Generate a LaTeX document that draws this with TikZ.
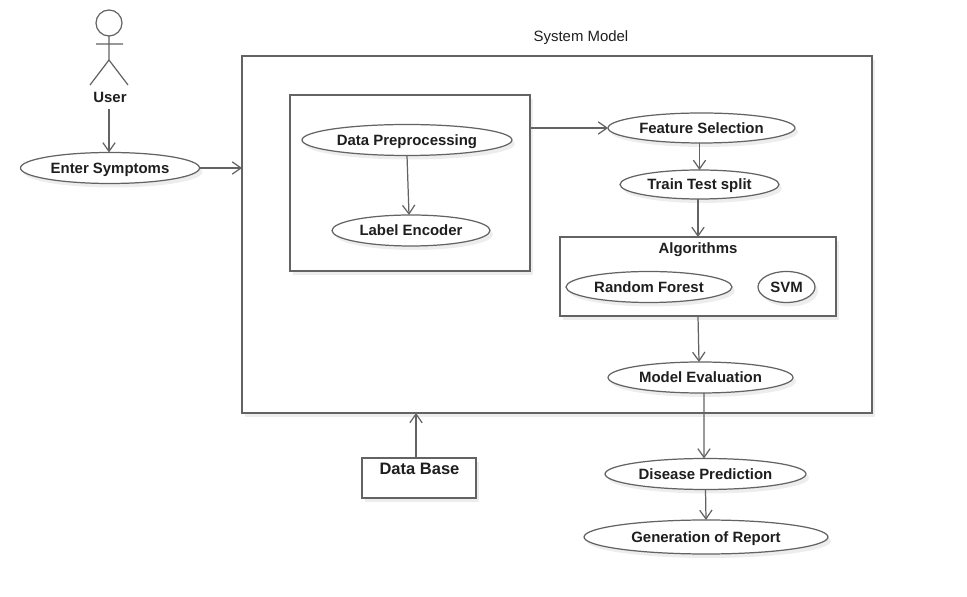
\documentclass[tikz,border=0pt]{standalone}
\usepackage{fontspec}
\setmainfont{Liberation Sans}
\usetikzlibrary{shapes.geometric,arrows.meta,shadows}
\definecolor{linegray}{HTML}{636363}
\definecolor{textgray}{HTML}{1E1E1E}
\tikzset{
  softshadow/.style={drop shadow={shadow xshift=0.06cm,shadow yshift=-0.08cm,fill=black,opacity=0.07}},
  usecase/.style={ellipse,draw=linegray,fill=white,line width=0.7pt,softshadow,inner sep=0pt,outer sep=0pt,
    text=textgray,text height=6pt,text depth=0pt,font=\fontsize{8.5}{10}\selectfont\bfseries},
  blockbox/.style={rectangle,draw=linegray,fill=white,line width=0.7pt,softshadow,inner sep=0pt,outer sep=0pt},
  caption/.style={text=textgray,text height=6pt,text depth=0pt,font=\fontsize{8.5}{10}\selectfont\bfseries,inner sep=0pt},
  flow/.style={-{Straight Barb[length=5pt,width=7pt]},draw=linegray,line width=0.7pt},
}
\begin{document}
\begin{tikzpicture}[x=0.02cm,y=-0.02cm]
  \useasboundingbox (0,0) rectangle (967,597);

  % boxes
  \node[blockbox,minimum width=12.6cm,minimum height=7.14cm] (system) at (557,234.5) {};
  \node[blockbox,minimum width=4.8cm,minimum height=3.52cm] (prep) at (410,183) {};
  \node[blockbox,minimum width=5.52cm,minimum height=1.58cm] (algo) at (698,276.5) {};
  \node[blockbox,minimum width=2.28cm,minimum height=0.8cm] (base) at (419,478) {};
  \node[caption,font=\fontsize{8.5}{10}\selectfont] (title) at (581,36) {System Model};
  \node[caption] (algotitle) at (698,248) {Algorithms};
  \node[caption,font=\fontsize{9.4}{11}\selectfont\bfseries] (basetitle) at (419.5,469) {Data Base};

  % actor
  \node[circle,draw=linegray,line width=0.7pt,minimum size=0.52cm,inner sep=0pt,outer sep=0pt] (head) at (109,23) {};
  \coordinate (hip) at (109,60);
  \coordinate (armL) at (96,44);
  \coordinate (armR) at (123,44);
  \coordinate (legL) at (90,85);
  \coordinate (legR) at (128,85);
  \draw[linegray,line width=0.7pt] (head.south) -- (hip) (armL) -- (armR) (legL) -- (hip) -- (legR);
  \node[caption] (user) at (110,97) {User};

  % use cases
  \node[usecase,minimum width=3.58cm,minimum height=0.62cm] (symptoms) at (110,168) {Enter Symptoms};
  \node[usecase,minimum width=4.2cm,minimum height=0.62cm] (clean) at (407,140) {Data Preprocessing};
  \node[usecase,minimum width=3.16cm,minimum height=0.62cm] (encoder) at (411,230.5) {Label Encoder};
  \node[usecase,minimum width=3.74cm,minimum height=0.6cm] (features) at (701.5,128) {Feature Selection};
  \node[usecase,minimum width=3.18cm,minimum height=0.58cm] (split) at (699.5,184.5) {Train Test split};
  \node[usecase,minimum width=3.32cm,minimum height=0.62cm] (forest) at (649,287) {Random Forest};
  \node[usecase,minimum width=1.14cm,minimum height=0.62cm] (svm) at (786.5,287) {SVM};
  \node[usecase,minimum width=3.7cm,minimum height=0.62cm] (evaluation) at (700.5,377.5) {Model Evaluation};
  \node[usecase,minimum width=4.02cm,minimum height=0.62cm] (disease) at (705.5,474) {Disease Prediction};
  \node[usecase,minimum width=4.88cm,minimum height=0.68cm] (report) at (706,537) {Generation of Report};

  % connectors
  \draw[flow] ([yshift=-0.12cm,xshift=-0.02cm]user.south) -- ([xshift=-0.02cm]symptoms.north);
  \draw[flow] (symptoms.east) -- (symptoms.east -| system.west);
  \draw[flow] (clean.south) -- ([xshift=-0.04cm]encoder.north);
  \draw[flow] (prep.east |- features.west) -- (features.west);
  \draw[flow] (features.south -| split.north) -- (split.north);
  \draw[flow] (split.south -| algo.north) -- (algo.north);
  \draw[flow] (algo.south) -- ([xshift=-0.03cm]evaluation.north);
  \draw[flow] ([xshift=0.07cm]evaluation.south) -- ([xshift=-0.03cm]disease.north);
  \draw[flow] (disease.south) -- (report.north);
  \draw[flow] ([xshift=-0.06cm]base.north) -- ([xshift=-0.06cm]base.north |- system.south);
\end{tikzpicture}
\end{document}
